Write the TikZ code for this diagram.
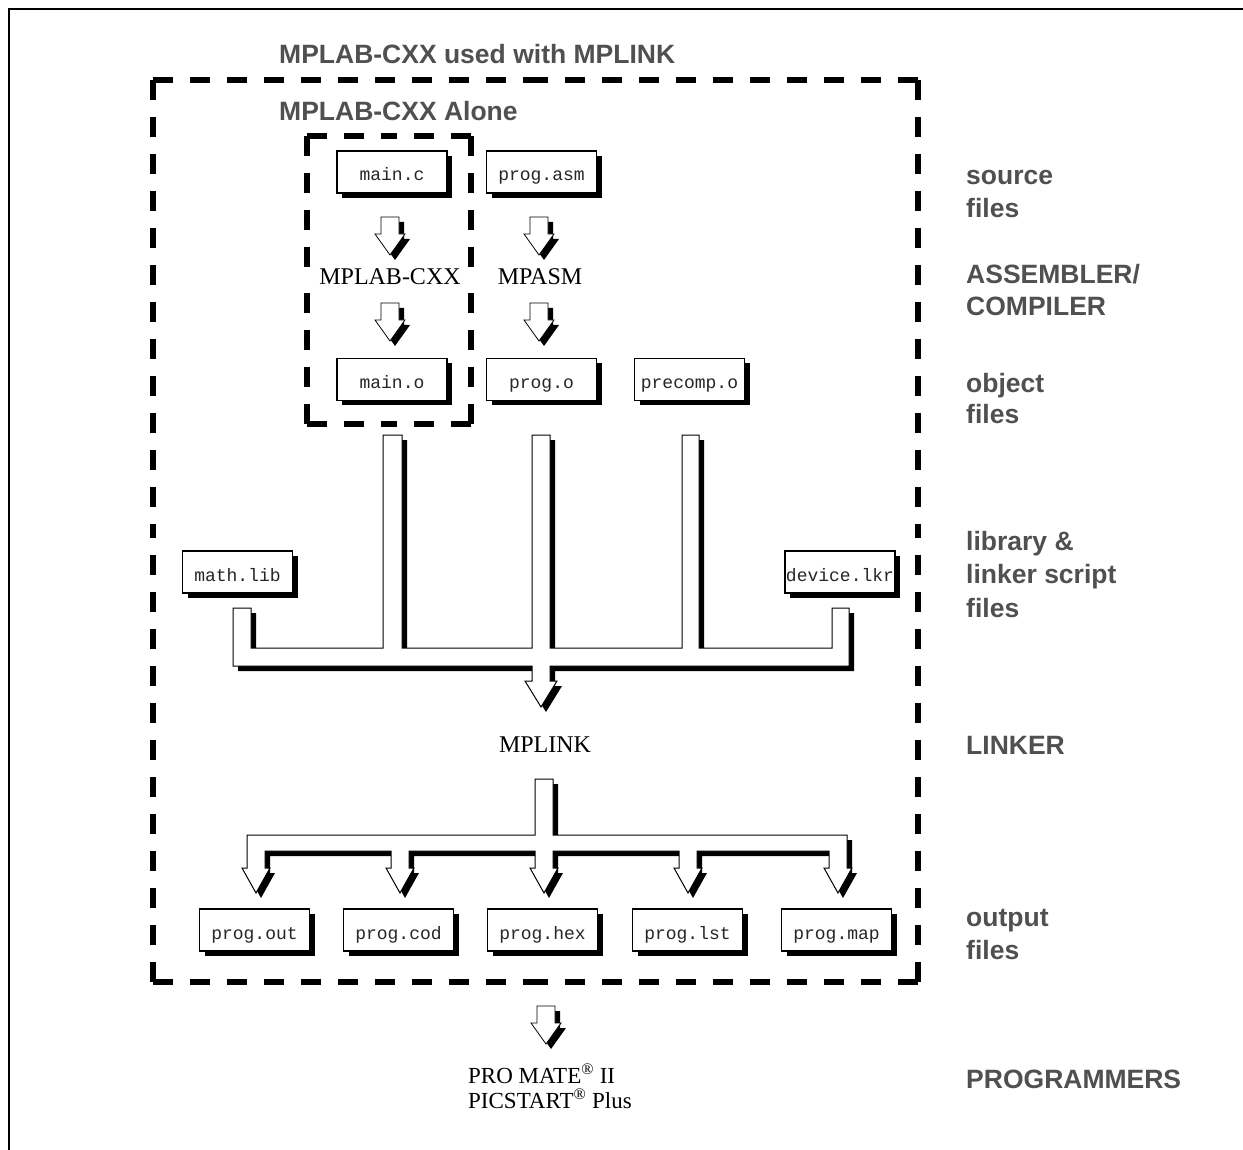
\documentclass[tikz,border=0pt]{standalone}
\usepackage{fontspec}
\setmainfont{Liberation Serif}
\newfontfamily\sansf{Liberation Sans}
\newfontfamily\monof{Liberation Mono}
\usetikzlibrary{shadows}
\definecolor{labgray}{RGB}{80,80,80}
\tikzset{
  filebox/.style={draw=black, line width=1.4pt, fill=white, minimum width=110pt, minimum height=42pt,
    inner sep=0pt, text height=18pt, text depth=0pt, text=black!85, font=\monof\fontsize{18}{20}\selectfont,
    drop shadow={shadow xshift=5pt, shadow yshift=-5pt, opacity=1, fill=black}},
  tool/.style={font=\fontsize{24}{26}\selectfont, inner sep=0pt},
  lab/.style={font=\sansf\bfseries\fontsize{26.5}{30}\selectfont, text=labgray, anchor=base west, inner sep=0pt},
  dashline/.style={line width=5.5pt, dash pattern=on 20pt off 17pt, line cap=butt},
  arrowshape/.style={insert path={(-9,0) -- (9,0) -- (9,17) -- (15,17) -- (0,38) -- (-15,17) -- (-9,17) -- cycle}},
  pics/barrow/.style={code={
    \fill[black, shift={(5,5)}, arrowshape];
    \filldraw[fill=white, draw=black, line width=0.8pt, arrowshape];
  }},
  linkbus/.style={insert path={(233,608) -- (251,608) -- (251,648) -- (383,648) -- (383,435) -- (402,435) -- (402,648)
    -- (532,648) -- (532,435) -- (550,435) -- (550,648) -- (682,648) -- (682,435) -- (699,435) -- (699,648)
    -- (832,648) -- (832,608) -- (849,608) -- (849,666) -- (550,666) -- (550,681) -- (557,681) -- (541,707)
    -- (525,681) -- (532,681) -- (532,666) -- (233,666) -- cycle}},
  outbus/.style={insert path={(535,779) -- (553,779) -- (553,835) -- (847,835) -- (847,868) -- (852,868) -- (838,893)
    -- (824,868) -- (829,868) -- (829,851) -- (697,851) -- (697,868) -- (702,868) -- (688,893) -- (674,868)
    -- (679,868) -- (679,851) -- (553,851) -- (553,868) -- (558,868) -- (544,893) -- (530,868) -- (535,868)
    -- (535,851) -- (409,851) -- (409,868) -- (414,868) -- (400,893) -- (386,868) -- (391,868) -- (391,851)
    -- (265,851) -- (265,868) -- (270,868) -- (256,893) -- (242,868) -- (247,868) -- (247,835) -- (535,835) -- cycle}}
}
\newcommand\mydashbox[4]{% x1 y1 x2 y2
  \draw[dashline] (#1,#2) -- ({(#1+#3)/2},#2);
  \draw[dashline] (#3,#2) -- ({(#1+#3)/2},#2);
  \draw[dashline] (#1,#4) -- ({(#1+#3)/2},#4);
  \draw[dashline] (#3,#4) -- ({(#1+#3)/2},#4);
  \draw[dashline] (#1,#2) -- (#1,{(#2+#4)/2});
  \draw[dashline] (#1,#4) -- (#1,{(#2+#4)/2});
  \draw[dashline] (#3,#2) -- (#3,{(#2+#4)/2});
  \draw[dashline] (#3,#4) -- (#3,{(#2+#4)/2});
}
\begin{document}
\begin{tikzpicture}[x=1pt,y=-1pt]
\useasboundingbox (0,0) rectangle (1243,1150);
\fill[white] (0,0) rectangle (1243,1150);
\draw[line width=2pt] (9,1150) -- (9,9) -- (1243,9);

% dashed groups
\mydashbox{153}{80}{918}{982}
\mydashbox{307}{136}{471}{424}
\node[lab] (tUsed) at (279,64) {MPLAB-CXX used with MPLINK};
\node[lab] (tAlone) at (279,121) {MPLAB-CXX Alone};

% linker bus (behind boxes)
\fill[black, shift={(5,5)}, linkbus];
\filldraw[fill=white, draw=black, line width=1pt, linkbus];
\fill[black, shift={(5,5)}, outbus];
\filldraw[fill=white, draw=black, line width=1pt, outbus];

% file boxes
\node[filebox] (mainc) at (392,172) {main.c};
\node[filebox] (progasm) at (541.5,172) {prog.asm};
\node[filebox] (maino) at (392,379.5) {main.o};
\node[filebox] (progo) at (541.5,379.5) {prog.o};
\node[filebox] (precomp) at (689.5,379.5) {precomp.o};
\node[filebox] (mathlib) at (237.5,572) {math.lib};
\node[filebox] (device) at (840,572) {device.lkr};
\node[filebox] (pout) at (254.5,930) {prog.out};
\node[filebox] (pcod) at (398.5,930) {prog.cod};
\node[filebox] (phex) at (542.5,930) {prog.hex};
\node[filebox] (plst) at (687.5,930) {prog.lst};
\node[filebox] (pmap) at (836.5,930) {prog.map};

% tools
\node[tool] (cxx) at (390,277) {MPLAB-CXX};
\node[tool] (mpasm) at (540,277) {MPASM};
\node[tool] (mplink) at (545,745) {MPLINK};
\node[font=\fontsize{23}{25}\selectfont, align=left, anchor=north west, inner sep=0pt] (progr) at (468,1064)
  {PRO MATE\textsuperscript{®} II\\PICSTART\textsuperscript{®} Plus};

% small arrows
\pic at (390,217) {barrow};
\pic at (390,303) {barrow};
\pic at (539,217) {barrow};
\pic at (539,303) {barrow};
\pic at (546,1006) {barrow};

% right labels
\node[lab] (l1a) at (966,185) {source};
\node[lab] (l1b) at (966,218) {files};
\node[lab] (l2a) at (966,284) {ASSEMBLER/};
\node[lab] (l2b) at (966,316) {COMPILER};
\node[lab] (l3a) at (966,392) {object};
\node[lab] (l3b) at (966,424) {files};
\node[lab] (l4a) at (966,550) {library \&};
\node[lab] (l4b) at (966,583) {linker script};
\node[lab] (l4c) at (966,617) {files};
\node[lab] (l5) at (966,754) {LINKER};
\node[lab] (l6a) at (966,926) {output};
\node[lab] (l6b) at (966,959) {files};
\node[lab] (l7) at (966,1088) {PROGRAMMERS};
\end{tikzpicture}
\end{document}
